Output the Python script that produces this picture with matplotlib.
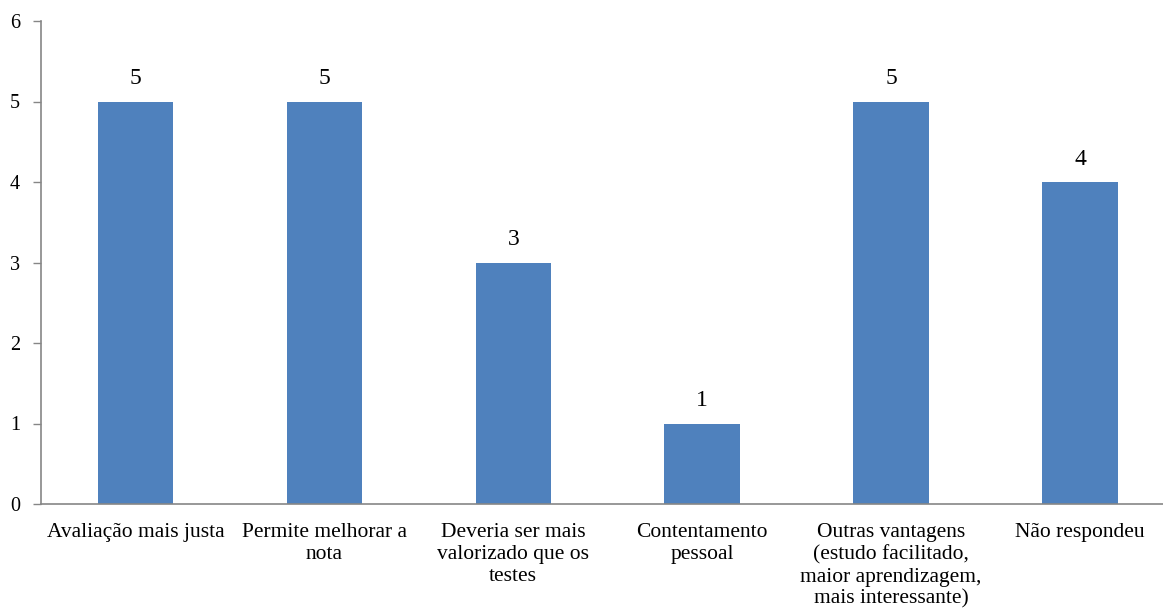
import matplotlib
matplotlib.use("Agg")
import matplotlib.pyplot as plt
import numpy as np

categories = [
    "Avaliação mais justa",
    "Permite melhorar a\nnota",
    "Deveria ser mais\nvalorizado que os\ntestes",
    "Contentamento\npessoal",
    "Outras vantagens\n(estudo facilitado,\nmaior aprendizagem,\nmais interessante)",
    "Não respondeu",
]
values = [5, 5, 3, 1, 5, 4]
y_ticks = [0, 1, 2, 3, 4, 5, 6]

plt.rcParams['font.family'] = ['Liberation Serif', 'DejaVu Serif']

fig = plt.figure(figsize=(11.63, 6.11), dpi=100)
ax = fig.add_axes([41 / 1163, 107 / 611, 1133.5 / 1163, 483 / 611])

x = np.arange(len(categories))
bars = ax.bar(x, values, width=0.4, color='#4F81BD', zorder=2)

for xi, v in zip(x, values):
    ax.text(xi, v + 0.15, str(v), ha='center', va='bottom', fontsize=17)

ax.set_xlim(-0.5, len(categories) - 0.5)
ax.set_ylim(0, 6)
ax.set_yticks(y_ticks)
ax.set_xticks(x)
ax.set_xticklabels(categories, fontsize=15.5, linespacing=1.2)
ax.tick_params(axis='x', length=0, pad=14)
ax.tick_params(axis='y', length=6, width=1, color='#868686', labelsize=14.5, pad=9)

for s in ['top', 'right']:
    ax.spines[s].set_visible(False)
for s in ['left', 'bottom']:
    ax.spines[s].set_color('#868686')
    ax.spines[s].set_linewidth(1.2)

fig.savefig("out.png", dpi=100)
